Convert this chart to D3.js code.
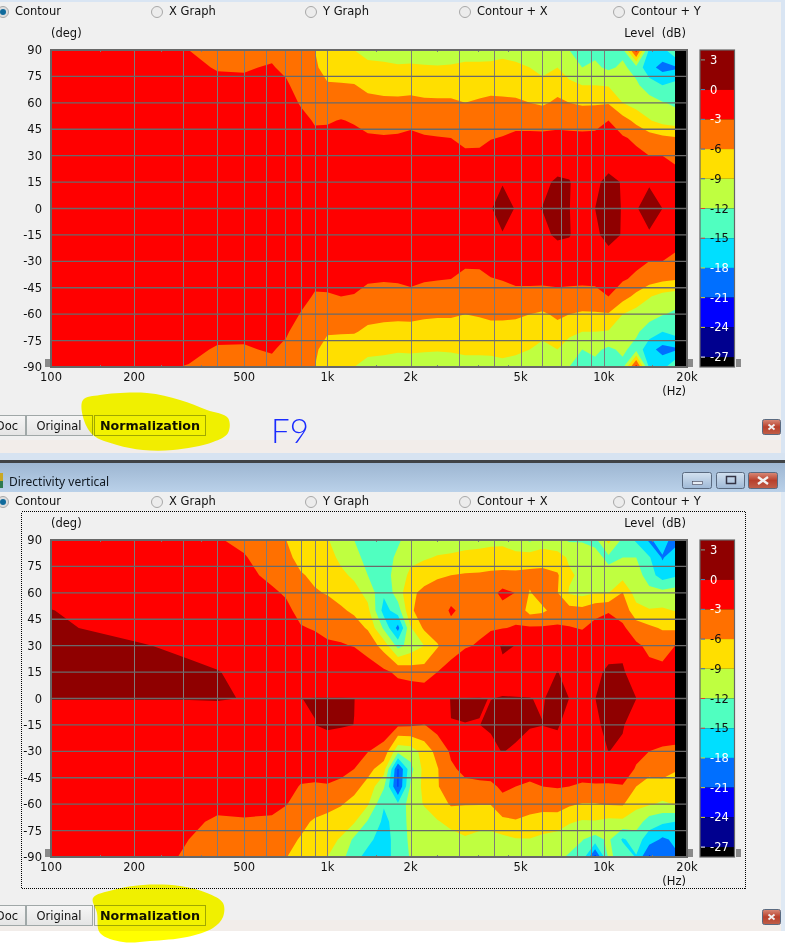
<!DOCTYPE html>
<html><head><meta charset="utf-8">
<style>html,body{margin:0;padding:0;background:#f0f0f0;overflow:hidden}svg{display:block}text{font-family:"DejaVu Sans",sans-serif;font-size:11.5px;fill:#111;white-space:pre}</style>
<script src="https://cdn.jsdelivr.net/npm/d3@7"></script></head><body><svg id="c" width="785" height="943"></svg>
<script>
const frequencies=[100,200,315,400,500,630,710,800,900,1000,1120,1250,1400,1600,1800,2000,2240,2500,2800,3150,3550,3900,4300,4800,5400,6000,6800,7500,8350,9300,10400,11700,13100,14600,16300,18100];
const angles=[90,80,70,60,50,40,30,15,0,-15,-30,-40,-50,-60,-70,-80,-90];
const topLevels=[
[-2.5,-2.2,-2,-1.7,-1.4,-1.1,-.9,-.6,-.5,-.6,-.9,-1.1,-1.4,-1.7,-2,-2.2,-2.5],
[-2.5,-2.2,-2,-1.7,-1.4,-1.1,-.9,-.6,-.5,-.6,-.9,-1.1,-1.4,-1.7,-2,-2.2,-2.5],
[-3,-2.5,-2.1,-1.7,-1.4,-1.1,-.9,-.6,-.5,-.6,-.9,-1.1,-1.4,-1.7,-2.1,-2.5,-3.1],
[-3.8,-3.15,-2.4,-1.9,-1.5,-1.1,-.9,-.6,-.5,-.6,-.9,-1.1,-1.5,-1.9,-2.4,-3.2,-3.8],
[-3.8,-3.2,-2.5,-1.9,-1.5,-1.1,-.9,-.6,-.5,-.6,-.9,-1.1,-1.5,-1.9,-2.5,-3.2,-3.8],
[-3.6,-2.8,-2.2,-1.8,-1.5,-1.1,-.9,-.6,-.5,-.6,-.9,-1.1,-1.5,-1.8,-2.2,-2.8,-3.6],
[-4.5,-3.6,-2.6,-2,-1.5,-1.2,-.9,-.6,-.5,-.6,-.9,-1.2,-1.5,-2,-2.7,-3.6,-4.5],
[-5.6,-5,-4.2,-3.2,-2.3,-1.7,-1.2,-.7,-.5,-.7,-1.2,-1.7,-2.3,-3.1,-4.2,-5,-5.6],
[-6,-5.5,-4.9,-4,-3.2,-2.5,-1.6,-.8,-.5,-.8,-1.6,-2.5,-3.2,-4,-4.9,-5.5,-6],
[-8,-7.2,-5.7,-4.4,-3.2,-2.4,-1.7,-.8,-.5,-.8,-1.7,-2.4,-3.2,-4.4,-5.7,-7.2,-8],
[-8.5,-7.3,-5.8,-4.5,-2.9,-2.3,-1.7,-.8,-.5,-.8,-1.7,-2.3,-3,-4.5,-5.8,-7.3,-8.5],
[-9,-7.5,-5.9,-4.6,-3.2,-2.4,-1.7,-.8,-.5,-.8,-1.7,-2.4,-3.1,-4.6,-5.8,-7.5,-9],
[-9.8,-8.4,-6.6,-5.3,-3.8,-2.7,-1.9,-.9,-.5,-.9,-1.9,-2.7,-3.8,-5.2,-6.5,-8.4,-9.8],
[-10,-8.5,-6.8,-5.5,-4,-2.8,-2,-.9,-.5,-.9,-2,-2.8,-4,-5.4,-6.7,-8.5,-10],
[-10.3,-8.7,-6.9,-5.5,-3.9,-2.7,-2,-.9,-.5,-.9,-2,-2.7,-3.9,-5.4,-6.9,-8.7,-10.3],
[-10.3,-8.6,-6.9,-5.3,-3.6,-2.5,-1.9,-.9,-.5,-.9,-1.9,-2.5,-3.6,-5.3,-6.9,-8.6,-10.3],
[-10.5,-8.7,-7,-5.6,-3.9,-2.8,-2,-.9,-.5,-.9,-2,-2.8,-3.9,-5.6,-7,-8.7,-10.5],
[-10.5,-8.8,-7.1,-5.6,-4,-2.9,-2.1,-1,-.5,-1,-2.1,-2.9,-4,-5.7,-7.1,-8.8,-10.5],
[-10.4,-8.7,-7.1,-5.6,-4.1,-3,-2.2,-1,-.5,-1,-2.2,-3,-4.1,-5.7,-7.1,-8.7,-10.4],
[-10,-8.5,-7,-6,-4.8,-3.7,-2.5,-1.1,-.5,-1.1,-2.5,-3.7,-4.8,-6,-7,-8.5,-10],
[-10,-8.5,-6.9,-5.7,-4.6,-3.6,-2.5,-1.1,-.4,-1.1,-2.5,-3.6,-4.6,-5.8,-6.9,-8.5,-10],
[-9.7,-8.6,-6.9,-5.4,-4,-3.1,-2.1,-.6,-.1,-.6,-2.1,-3.1,-4,-5.5,-6.9,-8.6,-9.7],
[-9.5,-8.5,-6.9,-5.5,-3.9,-2.9,-1.8,-.1,.7,-.1,-1.8,-2.9,-3.9,-5.5,-6.9,-8.5,-9.5],
[-9.8,-8.6,-7,-5.6,-3.6,-2.6,-1.7,-.5,-.1,-.5,-1.7,-2.6,-3.6,-5.6,-7,-8.6,-9.8],
[-10.8,-9,-7.3,-6,-3.9,-2.4,-1.5,-.6,-.2,-.6,-1.5,-2.4,-3.9,-6,-7.3,-9,-10.8],
[-11.4,-10,-8,-6.4,-4,-2.4,-1.5,-.5,.05,-.5,-1.5,-2.4,-4,-6.4,-8,-10,-11.4],
[-11,-9,-7,-5.5,-3.8,-2.3,-1.3,.35,.6,.35,-1.3,-2.3,-3.8,-5.5,-7,-9,-11],
[-12,-10.5,-8.3,-6,-4,-2.3,-.9,.1,.03,.1,-.9,-2.3,-4,-6,-8.3,-10.5,-12],
[-13,-12,-9,-6.4,-4,-2.4,-1.4,-.8,-.6,-.8,-1.4,-2.4,-4,-6.4,-9,-12,-13],
[-12.7,-11.5,-9,-6.3,-4,-2.3,-1.3,-.3,0,-.3,-1.3,-2.3,-4,-6.3,-9,-11.5,-12.7],
[-14,-12.5,-9.2,-6.2,-3,-1.8,-.8,.4,.7,.5,-.7,-1.8,-3,-6.2,-9.2,-12.5,-14],
[-12.7,-11.5,-10.3,-9,-4.8,-2.7,-1.4,-.1,-.1,-.1,-1.4,-2.7,-4.8,-9,-10.3,-11.5,-12.7],
[-1.5,-13,-11.5,-10.3,-6.8,-3.5,-2.4,-.7,-.1,-.7,-2.4,-3.5,-6.8,-10.3,-11.5,-13,-1.5],
[-15.5,-17,-13.5,-10.8,-8.8,-4.6,-3,-.15,.6,-.15,-3,-4.6,-8.8,-10.8,-13.5,-17,-15.5],
[-16,-19,-15,-11.8,-10,-5.3,-3,-.8,0,-.8,-3,-5.3,-10,-11.8,-15,-19,-16],
[-12.5,-18.5,-14,-12.5,-10.5,-5.7,-3.5,-2,-1.5,-2,-3.5,-5.7,-10.5,-12.5,-14,-18.5,-12.5]
];
const bottomLevels=[
[-1.5,-1.2,-.8,-.4,.03,.15,.3,.4,.03,-.5,-.7,-.9,-1.1,-1.3,-1.5,-1.8,-2],
[-2,-1.7,-1.4,-1,-.6,-.3,.1,.3,.03,-.5,-.7,-.9,-1.1,-1.3,-1.6,-2,-2.2],
[-2.6,-2.2,-1.8,-1.4,-1,-.6,-.2,.2,.03,-.5,-.7,-.9,-1.1,-1.4,-2.2,-3,-3.2],
[-2.8,-2.4,-2,-1.6,-1.2,-.9,-.5,.05,.05,-.5,-.7,-.9,-1.2,-2,-3.6,-4.3,-4.8],
[-3.6,-2.8,-2.3,-1.8,-1.4,-1,-.7,-.3,-.02,-.5,-.7,-.9,-1.2,-2.1,-3.3,-4.6,-5.2],
[-5,-4.4,-3.6,-2.6,-1.9,-1.3,-.9,-.5,-.2,-.6,-.8,-1,-1.3,-2,-3.6,-4.5,-5.2],
[-6,-5.2,-4.3,-3.3,-2.4,-1.6,-1.1,-.6,-.2,-.6,-.9,-1.2,-1.9,-2.9,-4.3,-5.2,-5.9],
[-8,-7,-5.7,-4.7,-3.8,-2.8,-2,-.9,-.005,-.6,-1,-1.8,-3.2,-4.2,-5.2,-6.2,-7.5],
[-8.4,-7.5,-6.6,-5.7,-4.2,-3.2,-2,-.9,.03,-.01,-.9,-1.8,-3.4,-4.5,-6.4,-7.4,-8.5],
[-8.8,-7.8,-7,-6.2,-4.8,-3.7,-2.6,-.9,.03,.25,-1,-1.9,-3.2,-5.1,-6.9,-8,-9],
[-10.5,-9.7,-8.3,-7,-5.6,-3.8,-2.8,-.9,.03,.15,-1.2,-2.2,-3.7,-5.8,-7.5,-9.3,-11],
[-12,-11,-9.6,-7.8,-6.5,-4.8,-3.1,-1,.02,-.01,-2,-3,-5,-7,-8.7,-12.6,-14],
[-13.5,-13,-12,-10,-8.2,-6.3,-4,-1.7,-.6,-.8,-2.9,-5,-7,-8.7,-12.3,-14.2,-16],
[-13.5,-13.6,-13.5,-14.5,-16.2,-12.5,-7.2,-2.4,-.8,-1.3,-4,-7.6,-11.6,-14.8,-15.6,-16.5,-16.5],
[-12.5,-11.3,-10.5,-10.5,-13.5,-19,-13,-3.6,-1,-2.5,-11,-21.2,-21.2,-14.5,-14,-13.5,-13.5],
[-10.5,-9.7,-8.4,-6.6,-6.3,-9.3,-10.8,-4.3,-.5,-2.6,-10.5,-13,-11.5,-10.5,-11,-11.5,-11.8],
[-10,-9.3,-7.2,-5.3,-5,-5.5,-9,-4.7,-.5,-3.1,-7.8,-8,-8.2,-8.8,-10.3,-11,-11],
[-10.3,-8.8,-6.4,-4.6,-4.3,-4.2,-6.3,-3,-.4,-1.8,-5,-6.2,-6.2,-7.5,-9.2,-10.5,-10.8],
[-10.2,-8.6,-6,-3.9,-2.7,-3.6,-3.8,-2.3,.03,-.01,-2.6,-3.4,-4.4,-5.7,-8.3,-9.9,-10.2],
[-10,-8.3,-5.7,-3.9,-3.6,-3.6,-3.2,-1.4,.03,-.003,-1.2,-2.4,-3.6,-5.9,-7.7,-9.3,-10],
[-9.8,-8.2,-5.6,-3.9,-3.5,-3.4,-2.8,-.9,.03,-.01,-1.3,-2.1,-3.5,-5.9,-7.9,-10,-10.2],
[-9.8,-7.7,-5.4,-3.9,-3.3,-3.5,-.6,-.6,-.01,.15,-.3,-1.6,-3.6,-5.9,-7.9,-10,-10.2],
[-9.6,-7.9,-5.2,-2.3,-3.9,-3.1,.15,-.3,.03,.5,.05,-1.2,-2.5,-3.9,-6.8,-9.8,-10],
[-11,-7.9,-5.3,-3.05,-3.9,-2.8,-.02,-.4,.03,.4,-.2,-1.6,-3,-4.7,-6.2,-9.2,-10.3],
[-12.5,-7.5,-5.2,-6.2,-7,-2.6,-1.2,-.8,.03,.1,-.6,-2,-3.4,-4.7,-6.9,-9.1,-10.5],
[-11,-7,-5.3,-4.5,-6.6,-2.6,-1.2,-.6,-.1,.02,-.7,-2.1,-3,-5.2,-7,-9.8,-11],
[-11.5,-7.6,-5.7,-5.9,-4.6,-2.6,-.9,.03,.5,.15,-.6,-2.1,-2.8,-4.9,-7.3,-10.5,-11.5],
[-12.3,-9.5,-8.5,-9.3,-4.8,-2.8,-1,-.4,-.01,-.6,-1.2,-2.1,-3,-5.6,-8.7,-11,-12.3],
[-12.5,-9,-9.7,-10,-5,-3.2,-1.2,-.9,-.5,-.6,-.9,-2,-3.3,-6.2,-9.3,-11.9,-13],
[-12.8,-11,-9.2,-9.1,-3.9,-2.1,-1.2,-.4,-.02,-.5,-1,-2,-3.2,-6.2,-9.2,-13,-22],
[-8,-12.7,-11,-9.1,-3.2,-1.8,-.7,.3,.7,.7,.03,-1.2,-3.4,-5.8,-9.8,-11.5,-11.5],
[-12.7,-12,-10.2,-5.9,-4.2,-2.5,-.4,.2,.2,.15,-.3,-1.2,-3.2,-5.7,-9.7,-15.4,-13],
[-15.5,-12,-10.5,-10.5,-7.8,-4.6,-2.5,-.9,.02,-1,-2.1,-3.3,-6,-8.4,-10.3,-13.7,-15.2],
[-18.5,-14.7,-13.6,-11,-8.8,-5.4,-3.6,-2.2,-.7,-1.2,-3,-5.1,-7.1,-8.7,-13.6,-16.5,-21.5],
[-16.5,-18.3,-16.5,-11,-8.6,-6.3,-3.9,-2.4,-.8,-1.2,-3.4,-4.8,-7,-9.5,-14.5,-18.5,-19.3],
[-19.5,-16,-15.5,-10.5,-9.1,-6.4,-3,-1.5,-1,-1.5,-3.5,-5.7,-7.5,-8.9,-15,-17.5,-18.5]
];
const bandThresholds=[-27,-24,-21,-18,-15,-12,-9,-6,-3,0];
const bandColors=["#00008f","#0000ff","#006fff","#00dfff","#50ffc0","#bfff40","#ffdf00","#ff7000","#ff0000","#8f0000"];
const belowColor="#000000";
const levelTicks=[3,0,-3,-6,-9,-12,-15,-18,-21,-24,-27];
const levelTickText=["#fff","#fff","#fff","#111","#111","#111","#111","#fff","#fff","#fff","#fff"];
const levelTickMark=["#7a9","#39c","#39c","#36c","#36c","#e33","#e33","#dd2","#dd2","#dd2","#fff"];
const xLabels=[[100,"100"],[200,"200"],[500,"500"],[1000,"1k"],[2000,"2k"],[5000,"5k"],[10000,"10k"],[20000,"20k"]];
const xGrid=[200,300,400,500,600,700,800,900,1000,2000,3000,4000,5000,6000,7000,8000,9000,10000];
const xMinor=[150,250,350,1500,2500,3500,4500,15000];
const yTicks=[90,75,60,45,30,15,0,-15,-30,-45,-60,-75,-90];
const modes=["Contour","X Graph","Y Graph","Contour + X","Contour + Y"];
const noDataFrom=18100;

const svg=d3.select("#c");
const rect=(x,y,w,h,f,extra)=>{const r=svg.append("rect").attr("x",x).attr("y",y).attr("width",w).attr("height",h).attr("fill",f);if(extra)Object.entries(extra).forEach(([k,v])=>r.attr(k,v));return r;};
const text=(x,y,s,anchor,extra)=>{const t=svg.append("text").attr("x",x).attr("y",y).attr("text-anchor",anchor||"start").attr("dominant-baseline","central").text(s);if(extra)Object.entries(extra).forEach(([k,v])=>t.style(k,v));return t;};
const defs=svg.append("defs");
const tg=defs.append("linearGradient").attr("id","tb").attr("x1",0).attr("x2",0).attr("y1",0).attr("y2",1);
tg.append("stop").attr("offset",0).attr("stop-color","#9db6d2");tg.append("stop").attr("offset",1).attr("stop-color","#bad1e9");
const bg=defs.append("linearGradient").attr("id","btn").attr("x1",0).attr("x2",0).attr("y1",0).attr("y2",1);
bg.append("stop").attr("offset",0).attr("stop-color","#f6f6f6");bg.append("stop").attr("offset",1).attr("stop-color","#e4e4e4");
const cg=defs.append("linearGradient").attr("id","cl").attr("x1",0).attr("x2",0).attr("y1",0).attr("y2",1);
cg.append("stop").attr("offset",0).attr("stop-color","#d98a78");cg.append("stop").attr("offset",.5).attr("stop-color","#b8402c");cg.append("stop").attr("offset",1).attr("stop-color","#c0604a");
const wg=defs.append("linearGradient").attr("id","wb").attr("x1",0).attr("x2",0).attr("y1",0).attr("y2",1);
wg.append("stop").attr("offset",0).attr("stop-color","#d3e1f0");wg.append("stop").attr("offset",1).attr("stop-color","#9fb9d6");

// window chrome
rect(0,0,785,943,"#f0f0f0");
rect(0,0,785,2,"#d9e5f3");
rect(781,0,4,455,"#d9e5f3");
rect(0,440,781,13,"#f2edea");
rect(0,453,785,7,"#d7e3f1");
rect(0,460,785,3,"#3f4246");
rect(0,463,785,29,"url(#tb)");
rect(781,492,4,440,"#dfe9f4");
rect(0,931,785,12,"#ffffff");
rect(0,920,781,11,"#f2edea");
text(9,481,"Directivity vertical","start",{"font-family":"'Noto Sans'","font-size":"12px","fill":"#101820"});
rect(0,473,3,8,"#c9a825");rect(0,481,3,7,"#2f7a4f");

function winBtn(x,y,w,h,fill,glyph,sw){
  rect(x,y,w,h,fill,{rx:2,stroke:"#5a6a80","stroke-width":1});
  if(glyph==="min")rect(x+10,y+9,10,3,"#e8eef5",{stroke:"#445",  "stroke-width":.6});
  if(glyph==="max")rect(x+10,y+4,9,7,"none",{stroke:"#334","stroke-width":1.5});
  if(glyph==="x"){const a=sw?3:5,b=sw?2.5:3.5;svg.append("path").attr("d",`M${x+w/2-a} ${y+h/2-b}L${x+w/2+a} ${y+h/2+b}M${x+w/2+a} ${y+h/2-b}L${x+w/2-a} ${y+h/2+b}`).attr("stroke","#f2f2f2").attr("stroke-width",sw||2.4);}
}
winBtn(682.5,472.5,29,16,"url(#wb)","min");
winBtn(716.5,472.5,28,16,"url(#wb)","max");
winBtn(748.5,472.5,29,16,"url(#cl)","x");
winBtn(762.5,419.5,18,15,"url(#cl)","x",1.8);
winBtn(762.5,909.5,18,15,"url(#cl)","x",1.8);

rect(21.5,511.5,724,377,"none",{stroke:"#000","stroke-width":1,"stroke-dasharray":"1 1","shape-rendering":"crispEdges"});

function radios(y){
  modes.forEach((m,i)=>{
    const cx=3+154*i, on=i===0;
    svg.append("circle").attr("cx",cx).attr("cy",y+1).attr("r",5.5).attr("fill",on?"#ddd":"#ececec").attr("stroke","#a8a8a8");
    if(on)svg.append("circle").attr("cx",cx).attr("cy",y+1).attr("r",3).attr("fill","#0f6a9c");
    text(15+154*i,y,m);
  });
}
radios(11);radios(501);

function tabRow(y){
  rect(-10,y,35.5,20,"url(#btn)",{stroke:"#a0a8a8"});
  rect(26.5,y,66,20,"url(#btn)",{stroke:"#a0a8a8"});
  rect(94.5,y,111,20,"#f2f2f2",{stroke:"#a0a8a0"});
  text(18,y+10,"Doc","end");
  text(59,y+10,"Original","middle");
  text(150,y+10,"Normalization","middle",{"font-weight":"bold","font-size":"12.7px"});
}
tabRow(415.5);tabRow(905.5);

const x=d3.scaleLog().domain([100,20000]).range([51,687]);
const levelScale=d3.scaleLinear().domain([4,-28]);

function chart(levels,top){
  const bottom=top+317;
  const y=d3.scaleLinear().domain([90,-90]).range([top,bottom]);
  const clipId="clip"+top;
  defs.append("clipPath").attr("id",clipId).append("rect").attr("x",x(100)).attr("y",top).attr("width",x(20000)-x(100)).attr("height",bottom-top);
  const nx=frequencies.length, ny=angles.length;
  const grid=new Array(nx*ny);
  levels.forEach((col,i)=>col.forEach((v,j)=>{grid[j*nx+i]=v;}));
  const xi=d3.scaleLinear().domain(d3.range(nx)).range(frequencies.map(f=>x(f)));
  const yi=d3.scaleLinear().domain(d3.range(ny)).range(angles.map(a=>y(a)));
  const proj=d3.geoTransform({point(a,b){this.stream.point(xi(a-.5),yi(b-.5));}});
  const path=d3.geoPath(proj);
  const g=svg.append("g").attr("clip-path",`url(#${clipId})`);
  g.append("rect").attr("x",x(100)).attr("y",top).attr("width",x(20000)-x(100)).attr("height",bottom-top).attr("fill",belowColor);
  const contours=d3.contours().size([nx,ny]).thresholds(bandThresholds)(grid);
  g.selectAll("path").data(contours).join("path").attr("d",path).attr("fill",(d,i)=>bandColors[i]);
  g.append("rect").attr("x",x(noDataFrom)).attr("y",top).attr("width",x(20000)-x(noDataFrom)).attr("height",bottom-top).attr("fill","#000");
  // grid
  const gg=svg.append("g").attr("shape-rendering","crispEdges");
  gg.selectAll(".v").data(xGrid).join("line").attr("x1",d=>Math.round(x(d))+.5).attr("x2",d=>Math.round(x(d))+.5).attr("y1",top).attr("y2",bottom).attr("stroke","#7c7c7c");
  gg.selectAll(".m").data(xMinor).join("line").attr("x1",d=>Math.round(x(d))+.5).attr("x2",d=>Math.round(x(d))+.5).attr("y1",top).attr("y2",top+2).attr("stroke","#7c7c7c");
  gg.selectAll(".mb").data(xMinor).join("line").attr("x1",d=>Math.round(x(d))+.5).attr("x2",d=>Math.round(x(d))+.5).attr("y1",bottom-2).attr("y2",bottom).attr("stroke","#7c7c7c");
  const hg=svg.append("g");
  hg.selectAll(".h").data(yTicks).join("line").attr("x1",x(100)).attr("x2",x(20000)).attr("y1",d=>y(d)).attr("y2",d=>y(d)).attr("stroke","#6a6a6a").attr("stroke-width",1.3);
  gg.append("rect").attr("x",x(100)).attr("y",top).attr("width",x(20000)-x(100)).attr("height",bottom-top).attr("fill","none").attr("stroke","#666").attr("stroke-width",1.2);
  // axis labels
  yTicks.forEach(t=>text(42,y(t),t,"end"));
  xLabels.forEach(([f,s])=>text(x(f),bottom+10,s,"middle"));
  text(51,top-17.5,"(deg)");
  text(686,top-17.5,"Level  (dB)","end");
  text(686,bottom+24,"(Hz)","end");
  // handles
  rect(45,bottom-8,5,8,"#8a8a8a");
  rect(688,bottom-8,5,8,"#8a8a8a");
  rect(736,bottom-8,5,8,"#8a8a8a");
  // colour bar
  const ls=levelScale.copy().range([top,bottom]);
  const barX=700,barW=34.5;
  rect(barX,top,barW,bottom-top,belowColor);
  const edges=[4].concat(bandThresholds.slice().reverse());
  bandColors.slice().reverse().forEach((c,i)=>{
    rect(barX,ls(edges[i]),barW,ls(edges[i+1])-ls(edges[i]),c);
  });
  rect(barX,top,barW,bottom-top,"none",{stroke:"#666","stroke-width":1.2});
  levelTicks.forEach((t,i)=>{
    svg.append("line").attr("x1",barX+1).attr("x2",barX+5).attr("y1",ls(t)).attr("y2",ls(t)).attr("stroke",levelTickMark[i]);
    text(710,ls(t),t,"start",{"fill":levelTickText[i]});
  });
}
chart(topLevels,50);
chart(bottomLevels,540);

// highlighter marks and handwriting from the screenshot
const hl=d3.line().curve(d3.curveCatmullRomClosed);
const blobTop=[[83,400],[100,395],[147,393],[180,400],[207,410],[228,418],[228,433],[213,442],[173,450],[143,450],[117,445],[93,435],[83,417]];
const blobBottom=[[93,898],[113,890],[143,885],[180,886],[207,893],[223,903],[223,917],[213,928],[187,937],[150,941],[123,942],[100,933],[97,913]];
[blobTop,blobBottom].forEach(b=>svg.append("path").attr("d",hl(b)).attr("fill","#ffff00").style("mix-blend-mode","multiply"));
text(271,430,"F9","start",{"font-family":"Lato","font-weight":"300","font-size":"33px","fill":"#1a2cff"});
</script></body></html>
